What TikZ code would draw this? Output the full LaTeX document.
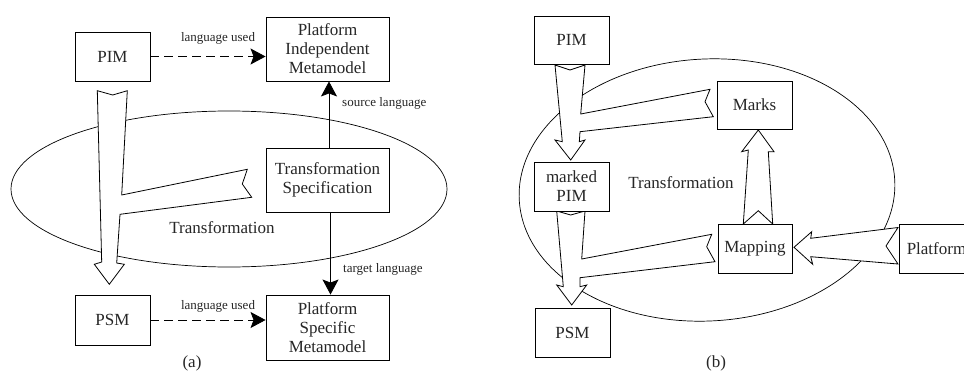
\documentclass[tikz,border=0pt]{standalone}
\usepackage{fontspec}
\setmainfont{Liberation Serif}
\usetikzlibrary{arrows.meta}
\tikzset{
  box/.style={draw, line width=0.9pt, fill=white, inner sep=0pt, align=center,
    font=\fontsize{17}{19}\selectfont, text=black!85},
  hollow/.style={draw, line width=0.8pt, fill=white, line join=miter},
  ring/.style={draw, line width=0.7pt},
  lbl/.style={font=\fontsize{13}{15}\selectfont, text=black!85, inner sep=0pt},
  big/.style={font=\fontsize{17}{19}\selectfont, text=black!85, inner sep=0pt},
  tip/.style={-{Stealth[length=15pt,width=16pt,inset=3pt]}, line width=0.8pt},
}
\begin{document}
\begin{tikzpicture}[x=1pt,y=-1pt]
\useasboundingbox (0,0) rectangle (964,372);
\clip (0,0) rectangle (964,372);
\fill[white] (0,0) rectangle (964,372);

% ---------- panel (a) ----------
\draw[ring] (229,189) ellipse [x radius=218, y radius=78];
\draw[hollow] (97.3,90.7) -- (112.7,95) -- (127.3,90.7) -- (121.7,195)
  -- (247.3,169.3) -- (242.3,184) -- (251.7,197.3) -- (120,214.3)
  -- (116.7,263) -- (124.3,264.3) -- (109.3,284.3) -- (94.3,264.3)
  -- (101.7,262) -- cycle;

\node[box, minimum width=75pt, minimum height=49pt] (pim) at (112.5,56.5) {PIM};
\node[box, minimum width=123pt, minimum height=64pt] (pimm) at (327.5,49) {Platform\\Independent\\Metamodel};
\node[box, minimum width=123pt, minimum height=64pt] (spec) at (327.5,180) {Transformation\\Specification};
\node[box, minimum width=75pt, minimum height=50pt] (psm) at (112.5,320) {PSM};
\node[box, minimum width=123pt, minimum height=65pt] (psmm) at (327.5,327.5) {Platform\\Specific\\Metamodel};

\draw[tip, dash pattern=on 9pt off 5pt] (pim.east) -- (pimm.west |- pim.east);
\draw[tip, dash pattern=on 9pt off 5pt] (psm.east) -- (psmm.west |- psm.east);
\draw[tip] ([xshift=1.5pt]spec.north) -- ([xshift=1.5pt]pimm.south);
\draw[tip] ([xshift=3pt]spec.south) -- ([xshift=3pt]psmm.north);

\node[lbl] (lu1) at (218,38) {language used};
\node[lbl] (lu2) at (218,306) {language used};
\node[lbl, anchor=west] (sl) at (342,103) {source language};
\node[lbl, anchor=west] (tl) at (343,269) {target language};
\node[big] (ta) at (222,228) {Transformation};
\node[big] (capa) at (192,363) {(a)};

% ---------- panel (b) ----------
\draw[ring, rotate around={3:(707,190)}] (707,190) ellipse [x radius=188, y radius=131];

\draw[hollow] (555,65) -- (570,70) -- (585,65) -- (580.7,114) -- (710,89.3)
  -- (705,101.7) -- (713.3,116.7) -- (580,131.7) -- (579.3,141.7) -- (585,140)
  -- (570.7,160) -- (555,140) -- (562.3,141.7) -- cycle;
\draw[hollow] (556.7,211) -- (570.7,215) -- (585,211) -- (581.7,259) -- (711.7,234.3)
  -- (706.7,246.7) -- (715,261.7) -- (580,277.7) -- (580,286.7) -- (586.7,285)
  -- (571.7,305) -- (556.7,285) -- (563.3,286.7) -- cycle;
\draw[hollow] (743.3,224) -- (758.3,210.7) -- (772.7,224) -- (768.3,151.7)
  -- (774,151.7) -- (758.3,130) -- (741.7,151.7) -- (748.3,150) -- cycle;
\draw[hollow] (794,247.3) -- (811.7,231.7) -- (810.7,238.3) -- (898,227.5)
  -- (886,246) -- (898,264) -- (810.7,256.7) -- (812.7,264.3) -- cycle;

\node[box, minimum width=75pt, minimum height=48pt] (bpim) at (571.5,40) {PIM};
\node[box, minimum width=75pt, minimum height=48pt] (marks) at (754.5,105) {Marks};
\node[box, minimum width=75pt, minimum height=49pt] (mpim) at (571.5,186.5) {marked\\PIM};
\node[box, minimum width=74pt, minimum height=49pt] (map) at (755,248.5) {Mapping};
\node[box, minimum width=75pt, minimum height=49pt] (plat) at (936.5,248.5) {Platform};
\node[box, minimum width=75pt, minimum height=49pt] (bpsm) at (572.5,332.5) {PSM};

\node[big] (tb) at (681,183) {Transformation};
\node[big] (capb) at (716,363) {(b)};
\end{tikzpicture}
\end{document}
